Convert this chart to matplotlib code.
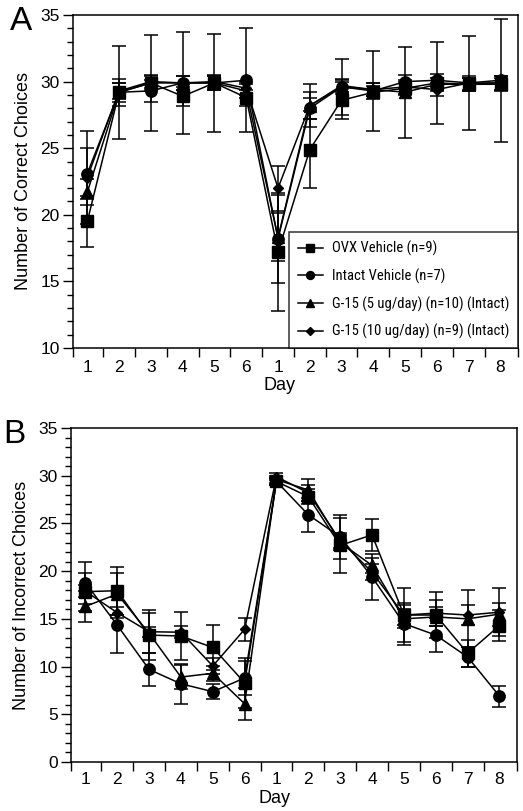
import numpy as np
import matplotlib
matplotlib.use("Agg")
import matplotlib.pyplot as plt
from matplotlib.ticker import MultipleLocator, FixedLocator
from matplotlib import font_manager

plt.rcParams['font.family'] = ['Liberation Sans', 'DejaVu Sans']

# ---------------- data ----------------
day_labels = ['1', '2', '3', '4', '5', '6', '1', '2', '3', '4', '5', '6', '7', '8']
groups = ['OVX Vehicle (n=9)', 'Intact Vehicle (n=7)',
          'G-15 (5 ug/day) (n=10) (Intact)', 'G-15 (10 ug/day) (n=9) (Intact)']

# Panel A: number of correct choices (mean, SEM)
correct_ovx = [19.5, 29.2, 29.9, 28.9, 29.9, 28.8, 17.2, 24.9, 28.6, 29.2, 29.5, 29.9, 29.8, 29.8]
correct_intact = [23.1, 29.2, 29.3, 29.9, 29.9, 30.1, 18.2, 28.0, 29.6, 29.3, 30.0, 30.1, 29.9, 30.1]
correct_g5 = [21.7, 29.2, 29.9, 29.9, 29.9, 29.3, 18.3, 28.2, 29.6, 29.4, 29.2, 29.8, 29.8, 29.9]
correct_g10 = [22.8, 29.3, 30.0, 29.9, 30.0, 29.5, 22.0, 28.2, 29.7, 29.4, 29.6, 29.4, 29.9, 29.9]

correct_ovx_sem = [1.9, 0.7, 0.5, 0.7, 0.5, 0.6, 4.4, 2.9, 1.4, 0.5, 0.5, 3.1, 0.5, 0.5]
correct_intact_sem = [1.9, 3.5, 0.8, 3.8, 0.5, 3.9, 3.3, 0.8, 0.5, 3.0, 0.5, 0.5, 3.5, 4.6]
correct_g5_sem = [1.0, 1.0, 3.6, 0.5, 3.7, 0.5, 1.8, 1.0, 2.1, 0.5, 3.4, 0.5, 0.5, 0.5]
correct_g10_sem = [3.5, 0.6, 0.5, 0.5, 0.5, 0.5, 1.7, 1.6, 0.5, 0.5, 0.5, 0.5, 0.5, 0.5]

# Panel B: number of incorrect choices (mean, SEM)
incorrect_ovx = [17.85, 17.95, 13.3, 13.2, 12.0, 8.3, 29.4, 27.8, 22.7, 23.8, 15.4, 15.4, 11.4, 14.3]
incorrect_intact = [18.8, 14.35, 9.7, 8.2, 7.37, 8.8, 29.4, 25.9, 23.6, 19.4, 14.5, 13.3, 11.0, 6.9]
incorrect_g5 = [16.3, 17.6, 13.5, 8.9, 9.3, 6.1, 29.6, 28.5, 23.0, 20.6, 15.0, 15.2, 15.0, 15.5]
incorrect_g10 = [17.9, 15.65, 13.65, 13.6, 10.06, 13.9, 29.9, 28.2, 23.2, 19.9, 15.4, 15.6, 15.4, 15.7]

incorrect_ovx_sem = [2.0, 2.5, 2.6, 2.5, 2.4, 2.6, 0.4, 0.8, 2.9, 1.7, 2.8, 2.4, 1.4, 1.6]
incorrect_intact_sem = [2.2, 2.9, 1.7, 2.1, 0.8, 1.8, 0.4, 1.8, 2.3, 2.4, 2.2, 1.8, 1.0, 1.1]
incorrect_g5_sem = [1.6, 2.2, 2.1, 1.3, 0.8, 1.7, 0.4, 1.2, 0.8, 0.8, 1.0, 1.0, 3.0, 1.2]
incorrect_g10_sem = [0.6, 0.6, 0.5, 0.6, 0.8, 1.2, 0.4, 0.8, 0.8, 0.8, 1.0, 1.4, 1.0, 2.5]

# ---------------- style ----------------
markers = ['s', 'o', '^', 'D']
msizes = [8.6, 8.2, 8.0, 5.6]

# legend font: a narrow face if one is installed, else a smaller regular face
leg_family, leg_size = ['Liberation Sans', 'DejaVu Sans'], 8.8
for cand in ['Liberation Sans Narrow', 'Arial Narrow', 'Roboto Condensed']:
    try:
        font_manager.findfont(font_manager.FontProperties(family=cand),
                              fallback_to_default=False)
        leg_family, leg_size = [cand, 'Liberation Sans'], 10.5
        break
    except Exception:
        pass

W, H = 523, 811
fig = plt.figure(figsize=(W / 100, H / 100), dpi=100)
axA = fig.add_axes([73 / W, 1 - 348 / H, 445 / W, 333 / H])
axB = fig.add_axes([71 / W, 1 - 762 / H, 446 / W, 334 / H])

x = np.arange(len(day_labels))


def draw(ax, means, sems, ylim, ylabel, with_legend, xpad):
    for m, s, mk, ms, lab in zip(means, sems, markers, msizes, groups):
        ax.errorbar(x, m, yerr=s, fmt='none', ecolor='black', elinewidth=1.1,
                    capsize=4.8, capthick=1.1, zorder=2)
        ax.plot(x, m, color='black', lw=1.1, marker=mk, ms=ms,
                mfc='black', mec='black', label=lab, zorder=3)
    ax.set_xlim(-0.45, len(x) - 0.45)
    ax.set_ylim(*ylim)
    ax.yaxis.set_major_locator(MultipleLocator(5))
    ax.yaxis.set_minor_locator(MultipleLocator(1))
    ax.tick_params(axis='y', which='major', direction='out', length=7.5, width=1.0,
                   labelsize=12.5, pad=2)
    ax.tick_params(axis='y', which='minor', direction='out', length=4, width=1.0)
    ax.set_xticks(x)
    ax.set_xticklabels(day_labels)
    ax.xaxis.set_minor_locator(FixedLocator([-0.45] + list(x[:-1] + 0.5) + [len(x) - 0.45]))
    ax.tick_params(axis='x', which='major', length=0, labelsize=12.5, pad=xpad)
    ax.tick_params(axis='x', which='minor', direction='out', length=6.5, width=1.0)
    for sp in ax.spines.values():
        sp.set_linewidth(1.1)
    ax.set_ylabel(ylabel, fontsize=13, labelpad=6)
    if with_legend:
        leg = ax.legend(loc='lower right', bbox_to_anchor=(1.0, 0.0), borderaxespad=0,
                        frameon=True, fancybox=False, edgecolor='black',
                        prop={'family': leg_family, 'size': leg_size},
                        handlelength=18 / leg_size, handletextpad=6.5 / leg_size,
                        labelspacing=1.1 if leg_size < 10 else 0.85,
                        markerscale=0.7, borderpad=0.6)
        leg.get_frame().set_linewidth(1.1)


draw(axA, [correct_ovx, correct_intact, correct_g5, correct_g10],
     [correct_ovx_sem, correct_intact_sem, correct_g5_sem, correct_g10_sem],
     (10, 35), 'Number of Correct Choices', True, 9)
draw(axB, [incorrect_ovx, incorrect_intact, incorrect_g5, incorrect_g10],
     [incorrect_ovx_sem, incorrect_intact_sem, incorrect_g5_sem, incorrect_g10_sem],
     (0, 35), 'Number of Incorrect Choices', False, 7.5)

axA.set_xlabel('Day', fontsize=13)
axA.xaxis.set_label_coords(0.463, -0.087)
axB.set_xlabel('Day', fontsize=13)
axB.xaxis.set_label_coords(0.457, -0.083)

fig.text(21 / W, 1 - 22 / H, 'A', fontsize=24, ha='center', va='center')
fig.text(14 / W, 1 - 434 / H, 'B', fontsize=24, ha='center', va='center')

fig.savefig('out.png', dpi=100)
